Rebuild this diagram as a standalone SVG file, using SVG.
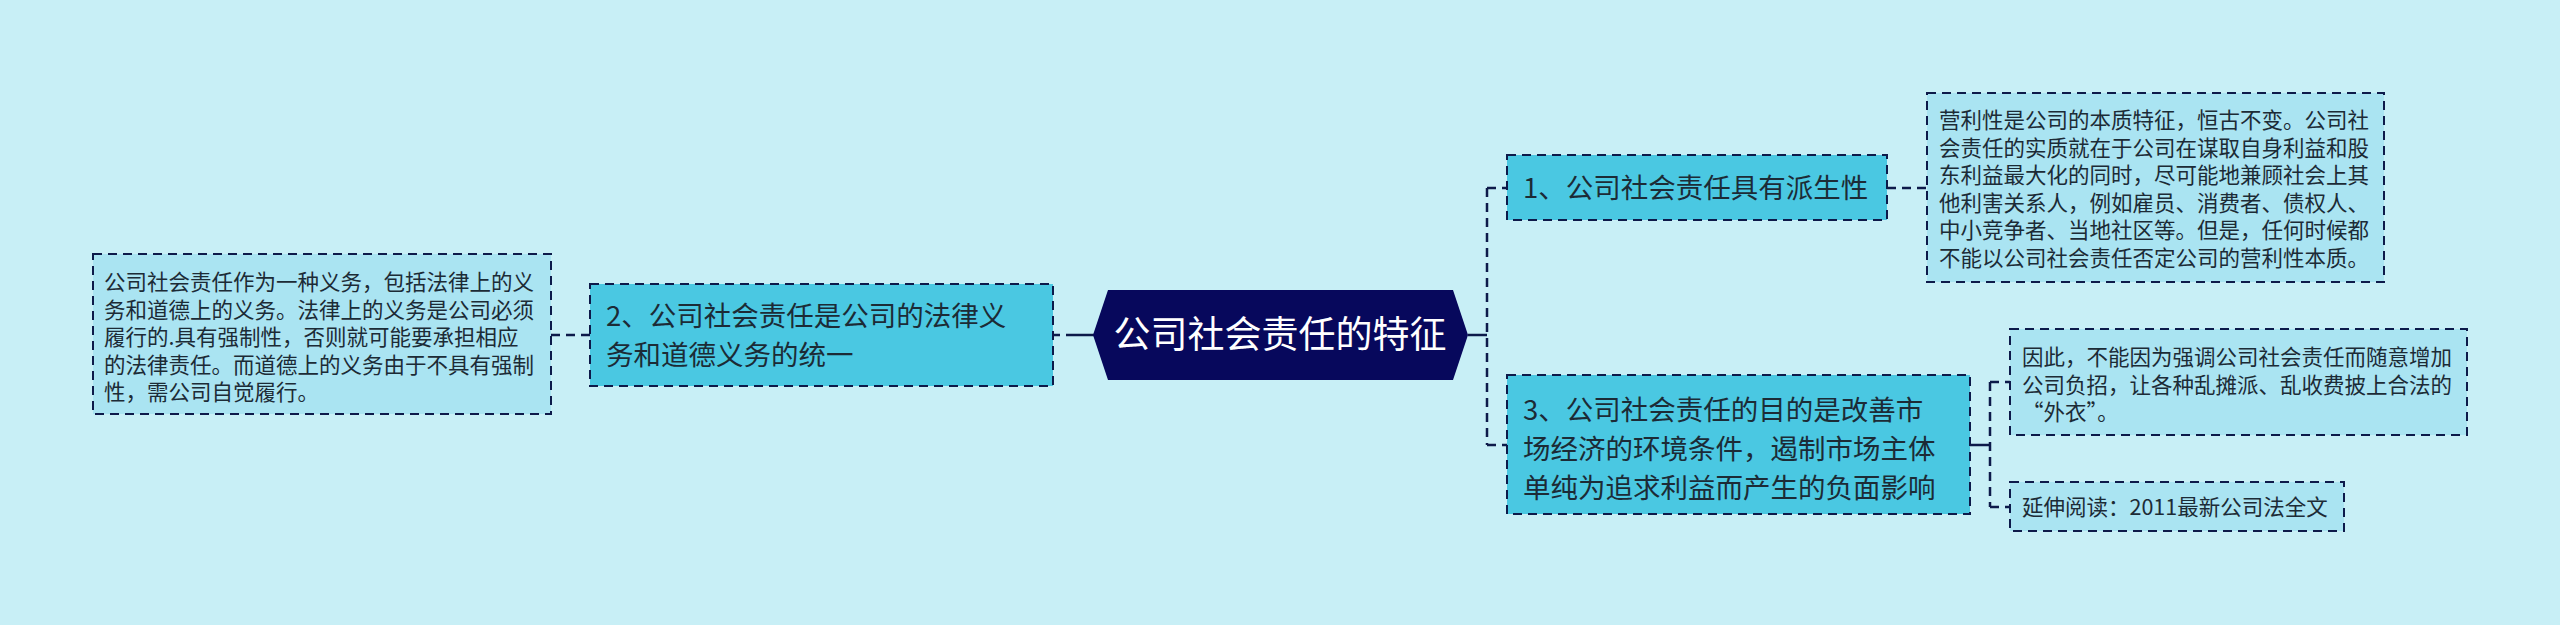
<svg xmlns="http://www.w3.org/2000/svg" width="2560" height="625" viewBox="0 0 2560 625">
<style>
.bg{fill:#c8eff6}
.node{fill:#4ac8e2;stroke:#0d1a4a;stroke-width:2;stroke-dasharray:9 6}
.leaf{fill:#aae4f2;stroke:#0d1a4a;stroke-width:2;stroke-dasharray:9 6}
.ct{fill:#07085c}
.conn{stroke:#0d1a4a;stroke-width:2.5;fill:none}
.d{stroke-dasharray:9 6}
text{font-family:"Microsoft YaHei","Noto Sans CJK SC","Noto Sans",sans-serif;fill:#1c2b36}
.t1{font-size:27.5px}
.t2{font-size:21.5px}
.tc{font-size:37px;fill:#ffffff}
</style>
<rect class="bg" x="0" y="0" width="2560" height="625"/>
<g id="connectors">
<line class="conn d" x1="551" y1="335" x2="590" y2="335"/>
<line class="conn" x1="1094" y1="335" x2="1053" y2="335" stroke-dasharray="28 6 6 6"/>
<line class="conn" x1="1468" y1="335" x2="1487" y2="335"/>
<line class="conn d" x1="1487" y1="188" x2="1487" y2="445"/>
<line class="conn d" x1="1487" y1="188" x2="1507" y2="188"/>
<line class="conn d" x1="1487" y1="445" x2="1507" y2="445"/>
<line class="conn d" x1="1887" y1="188" x2="1927" y2="188"/>
<line class="conn" x1="1970" y1="445" x2="1990" y2="445"/>
<line class="conn d" x1="1990" y1="382" x2="1990" y2="507"/>
<line class="conn d" x1="1990" y1="382" x2="2010" y2="382"/>
<line class="conn d" x1="1990" y1="507" x2="2010" y2="507"/>
</g>
<g id="center">
<polygon class="ct" points="1093,335 1108,290 1453,290 1468,335 1453,380 1108,380"/>
<text class="tc" x="1280" y="348" text-anchor="middle">公司社会责任的特征</text>
</g>
<g id="node2">
<rect class="node" x="590" y="284" width="463" height="102"/>
<text class="t1" x="606" y="326">2、公司社会责任是公司的法律义</text>
<text class="t1" x="606" y="365">务和道德义务的统一</text>
</g>
<g id="leaf2">
<rect class="leaf" x="93" y="254" width="458" height="160"/>
<text class="t2" x="104" y="290">公司社会责任作为一种义务，包括法律上的义</text>
<text class="t2" x="104" y="317.5">务和道德上的义务。法律上的义务是公司必须</text>
<text class="t2" x="104" y="345">履行的.具有强制性，否则就可能要承担相应</text>
<text class="t2" x="104" y="372.5">的法律责任。而道德上的义务由于不具有强制</text>
<text class="t2" x="104" y="400">性，需公司自觉履行。</text>
</g>
<g id="node1">
<rect class="node" x="1507" y="155" width="380" height="65"/>
<text class="t1" x="1523" y="198">1、公司社会责任具有派生性</text>
</g>
<g id="leaf1">
<rect class="leaf" x="1927" y="93" width="457" height="189"/>
<text class="t2" x="1939" y="128">营利性是公司的本质特征，恒古不变。公司社</text>
<text class="t2" x="1939" y="155.5">会责任的实质就在于公司在谋取自身利益和股</text>
<text class="t2" x="1939" y="183">东利益最大化的同时，尽可能地兼顾社会上其</text>
<text class="t2" x="1939" y="210.5">他利害关系人，例如雇员、消费者、债权人、</text>
<text class="t2" x="1939" y="238">中小竞争者、当地社区等。但是，任何时候都</text>
<text class="t2" x="1939" y="265.5">不能以公司社会责任否定公司的营利性本质。</text>
</g>
<g id="node3">
<rect class="node" x="1507" y="375" width="463" height="139"/>
<text class="t1" x="1523" y="420">3、公司社会责任的目的是改善市</text>
<text class="t1" x="1523" y="459">场经济的环境条件，遏制市场主体</text>
<text class="t1" x="1523" y="498">单纯为追求利益而产生的负面影响</text>
</g>
<g id="leaf3a">
<rect class="leaf" x="2010" y="329" width="457" height="106"/>
<text class="t2" x="2022" y="365">因此，不能因为强调公司社会责任而随意增加</text>
<text class="t2" x="2022" y="392.5">公司负招，让各种乱摊派、乱收费披上合法的</text>
<text class="t2" x="2022" y="420">“外衣”。</text>
</g>
<g id="leaf3b">
<rect class="leaf" x="2010" y="482" width="334" height="49"/>
<text class="t2" x="2022" y="515">延伸阅读：2011最新公司法全文</text>
</g>
</svg>
